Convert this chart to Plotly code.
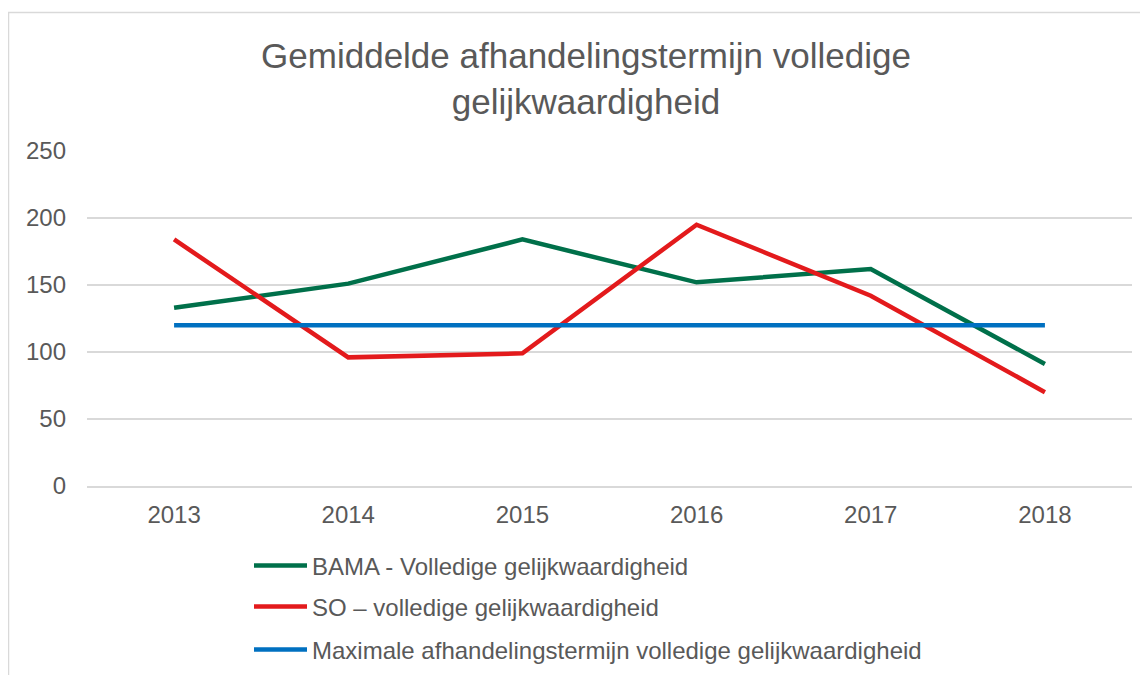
import plotly.graph_objects as go

years = ["2013", "2014", "2015", "2016", "2017", "2018"]
bama = [133, 151, 184, 152, 162, 91]
so = [184, 96, 99, 195, 142, 70]
maximum = [120, 120, 120, 120, 120, 120]
names = ["BAMA - Volledige gelijkwaardigheid",
         "SO \u2013 volledige gelijkwaardigheid",
         "Maximale afhandelingstermijn volledige gelijkwaardigheid"]
colors = ["#00704A", "#E31A1C", "#0070C0"]

# page body has an 8px margin; work in page coordinates and subtract it
OFF = 8
W, H = 1148 - OFF, 675 - OFF
L, R, T, B = 87 - OFF, 1148 - 1132, 151 - OFF, 675 - 486
pw = W - L - R
ph = H - T - B

fig = go.Figure()
series = [bama, so, maximum]
legends = ["legend", "legend2", "legend3"]
for s, n, c, lg in zip(series, names, colors, legends):
    fig.add_trace(go.Scatter(x=years, y=s, name=n, mode="lines",
                             line=dict(color=c, width=4.5), legend=lg))

font = "Liberation Sans, Arial, sans-serif"
tc = "#595959"

def legend_at(ycenter):
    return dict(x=(249 - OFF - L) / pw, xanchor="left",
                y=(H - B - (ycenter - OFF)) / ph, yanchor="middle",
                font=dict(family=font, size=24, color=tc),
                bgcolor="rgba(0,0,0,0)", itemwidth=53)

fig.update_layout(
    width=W, height=H,
    margin=dict(l=L, r=R, t=T, b=B, autoexpand=False),
    paper_bgcolor="white", plot_bgcolor="white",
    title=dict(text="Gemiddelde afhandelingstermijn volledige<br>gelijkwaardigheid",
               x=(586 - OFF) / W, xanchor="center", y=1 - 60 / H, yanchor="top",
               font=dict(family=font, size=35, color=tc)),
    showlegend=True,
    legend=legend_at(566),
    legend2=legend_at(607),
    legend3=legend_at(650),
    xaxis=dict(showgrid=False, showline=True, linecolor="#d9d9d9", linewidth=1.5,
               range=[-0.5, 5.5], automargin=False,
               ticks="", tickfont=dict(family=font, size=24, color=tc),
               ticklabelstandoff=6, zeroline=False),
    yaxis=dict(range=[0, 250], dtick=50, showgrid=True, gridcolor="#d9d9d9",
               gridwidth=1.5, showline=False, zeroline=False, ticks="",
               automargin=False,
               tickfont=dict(family=font, size=24, color=tc),
               ticklabelstandoff=20),
    shapes=[dict(type="rect", xref="paper", yref="paper",
                 x0=(8.5 - OFF - L) / pw, x1=(W + 20 - L) / pw,
                 y0=(-H - 20) / ph, y1=(H - B - (12.5 - OFF)) / ph,
                 line=dict(color="#d9d9d9", width=1.5), layer="below")],
)

fig.write_html("out.html")
